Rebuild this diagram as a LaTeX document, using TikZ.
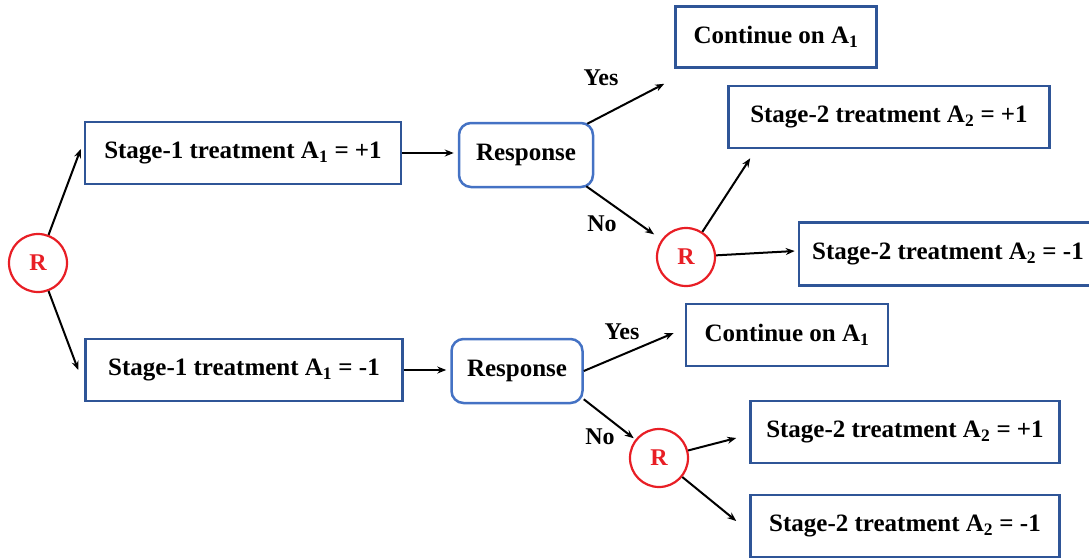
\documentclass[tikz,border=0pt]{standalone}
\usepackage{fontspec}
\setmainfont{Liberation Serif}
\usepackage{xcolor}
\usetikzlibrary{arrows.meta,positioning}

\definecolor{boxblue}{RGB}{47,85,151}
\definecolor{respblue}{RGB}{68,114,196}
\definecolor{randred}{RGB}{232,30,37}

\begin{document}
\begin{tikzpicture}[
    x=1pt, y=-1pt,
    treat/.style={rectangle, draw=boxblue, line width=2.5pt, fill=white, minimum height=62pt, inner sep=0pt, font=\fontsize{25}{30}\selectfont\bfseries},
    resp/.style={rectangle, draw=respblue, line width=2.5pt, rounded corners=12pt, minimum width=134pt, minimum height=64pt, font=\fontsize{25}{30}\selectfont\bfseries},
    rand/.style={circle, draw=randred, line width=2.2pt, minimum size=58pt, inner sep=0pt, text=randred, font=\fontsize{24}{28}\selectfont\bfseries},
    lbl/.style={font=\fontsize{24}{28}\selectfont\bfseries},
    arrow/.style={-{Stealth[length=9pt,width=7pt]}, line width=2pt}
]
\useasboundingbox (0,0) rectangle (1089,558);
\clip (0,0) rectangle (1089,558);

% Randomisation
\node[rand] (r0) at (38,263) {R};

% Stage 1
\node[treat, minimum width=316pt] (s1p) at (243,153) {Stage-1 treatment A\textsubscript{1} = +1};
\node[treat, minimum width=317pt] (s1m) at (244,370) {Stage-1 treatment A\textsubscript{1} = -1};

% Response
\node[resp] (resp1) at (526,155) {Response};
\node[resp, minimum width=131pt] (resp2) at (517,371) {Response};

% Outcomes, top
\node[treat, minimum width=201pt, minimum height=61pt] (cont1) at (776,37) {Continue on A\textsubscript{1}};
\node[treat, minimum width=321pt] (s2pa) at (889,117) {Stage-2 treatment A\textsubscript{2} = +1};
\node[rand] (r1) at (686,257) {R};
\node[treat, minimum width=298pt, minimum height=63pt] (s2ma) at (948,254) {Stage-2 treatment A\textsubscript{2} = -1};

% Outcomes, bottom
\node[treat, minimum width=202pt] (cont2) at (787,335) {Continue on A\textsubscript{1}};
\node[rand] (r2) at (659,458) {R};
\node[treat, minimum width=309pt] (s2pb) at (905,432) {Stage-2 treatment A\textsubscript{2} = +1};
\node[treat, minimum width=309pt] (s2mb) at (905,526) {Stage-2 treatment A\textsubscript{2} = -1};

% Labels
\node[lbl] (yes1) at (601,78) {Yes};
\node[lbl] (no1) at (602,224) {No};
\node[lbl] (yes2) at (622,332) {Yes};
\node[lbl] (no2) at (600,437) {No};

% Connections
\draw[arrow] (r0) -- ([xshift=-3pt,yshift=4pt]s1p.west);
\draw[arrow] (r0) -- ([xshift=-6pt]s1m.west);
\draw[arrow] (s1p.east) -- ([xshift=-4pt]s1p.east -| resp1.west);
\draw[arrow] (s1m.east) -- ([xshift=-4pt]s1m.east -| resp2.west);
\draw[arrow] ([xshift=-7pt,yshift=-2pt]resp1.north east) -- ([xshift=-10pt,yshift=-15pt]cont1.south west);
\draw[arrow, shorten >=9pt] ([xshift=-8pt,yshift=2pt]resp1.south east) -- (r1);
\draw[arrow] (r1) -- ([xshift=23pt,yshift=-9pt]s2pa.south west);
\draw[arrow] (r1) -- ([xshift=-3pt,yshift=3pt]s2ma.west);
\draw[arrow] (resp2.east) -- ([xshift=-11pt,yshift=2pt]cont2.west);
\draw[arrow, shorten >=2pt] ([yshift=5pt]resp2.south east) -- (r2);
\draw[arrow] (r2) -- ([xshift=-13pt,yshift=-6pt]s2pb.west);
\draw[arrow] (r2) -- ([xshift=-13pt,yshift=5pt]s2mb.west);

\end{tikzpicture}
\end{document}
